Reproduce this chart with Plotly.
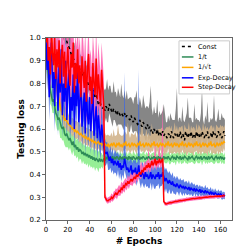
import plotly.graph_objects as go

epochs = list(range(165))

const_mean = [
1.40,1.37,1.34,1.31,1.28,1.26,1.23,1.21,1.18,1.16,
1.14,1.12,1.10,1.08,1.06,1.05,1.03,1.02,1.00,0.99,
0.97,0.96,0.95,0.93,0.92,0.91,0.90,0.88,0.89,0.87,
0.875,0.86,0.85,0.84,0.83,0.85,0.81,0.80,0.81,0.79,
0.78,0.77,0.76,0.77,0.75,0.74,0.75,0.73,0.71,0.72,
0.71,0.70,0.69,0.70,0.68,0.70,0.69,0.68,0.71,0.69,
0.68,0.67,0.69,0.68,0.675,0.66,0.68,0.67,0.66,0.67,
0.66,0.655,0.67,0.65,0.66,0.65,0.645,0.64,0.66,0.64,
0.63,0.65,0.64,0.63,0.62,0.625,0.64,0.62,0.61,0.63,
0.62,0.61,0.60,0.62,0.60,0.61,0.59,0.60,0.58,0.60,
0.59,0.58,0.60,0.57,0.59,0.58,0.57,0.59,0.57,0.58,
0.57,0.56,0.58,0.575,0.56,0.59,0.57,0.56,0.58,0.57,
0.58,0.56,0.57,0.59,0.56,0.58,0.57,0.55,0.59,0.57,
0.56,0.58,0.57,0.59,0.56,0.57,0.58,0.56,0.59,0.57,
0.58,0.56,0.57,0.59,0.57,0.56,0.58,0.57,0.59,0.56,
0.57,0.58,0.56,0.59,0.57,0.58,0.56,0.57,0.59,0.57,
0.58,0.56,0.57,0.59,0.57]
const_up = [
0.06,0.07,0.06,0.08,0.06,0.07,0.06,0.08,0.07,0.06,
0.07,0.06,0.08,0.06,0.07,0.06,0.07,0.08,0.06,0.07,
0.06,0.07,0.08,0.06,0.07,0.06,0.08,0.07,0.06,0.07,
0.07,0.06,0.08,0.06,0.07,0.06,0.07,0.08,0.06,0.07,
0.06,0.07,0.08,0.06,0.07,0.06,0.08,0.07,0.06,0.07,
0.09,0.08,0.10,0.08,0.09,0.08,0.13,0.09,0.08,0.10,
0.08,0.09,0.12,0.08,0.09,0.08,0.10,0.09,0.08,0.13,
0.09,0.08,0.10,0.08,0.11,0.08,0.09,0.10,0.08,0.09,
0.08,0.09,0.10,0.14,0.09,0.08,0.10,0.09,0.08,0.12,
0.09,0.08,0.10,0.08,0.09,0.11,0.20,0.09,0.08,0.10,
0.08,0.09,0.13,0.08,0.09,0.08,0.10,0.09,0.14,0.09,
0.06,0.07,0.08,0.06,0.11,0.06,0.07,0.08,0.06,0.12,
0.20,0.07,0.08,0.06,0.07,0.12,0.07,0.08,0.06,0.10,
0.18,0.07,0.08,0.06,0.07,0.06,0.13,0.08,0.06,0.07,
0.06,0.07,0.10,0.19,0.07,0.06,0.08,0.07,0.13,0.07,
0.06,0.07,0.08,0.06,0.18,0.06,0.07,0.08,0.10,0.07,
0.06,0.11,0.08,0.06,0.07]
const_dn = [
0.04,0.05,0.04,0.03,0.04,0.05,0.04,0.04,0.03,0.04,
0.05,0.04,0.04,0.03,0.04,0.05,0.04,0.04,0.03,0.04,
0.04,0.05,0.04,0.03,0.04,0.04,0.05,0.04,0.03,0.04,
0.04,0.05,0.04,0.03,0.04,0.04,0.05,0.04,0.03,0.04,
0.04,0.05,0.04,0.03,0.04,0.04,0.05,0.04,0.03,0.04,
0.05,0.06,0.05,0.04,0.05,0.05,0.06,0.05,0.04,0.05,
0.05,0.06,0.05,0.04,0.05,0.05,0.06,0.05,0.04,0.05,
0.05,0.06,0.05,0.04,0.05,0.05,0.06,0.05,0.04,0.05,
0.05,0.06,0.05,0.04,0.05,0.05,0.06,0.05,0.04,0.05,
0.05,0.06,0.05,0.04,0.05,0.05,0.06,0.05,0.04,0.05,
0.04,0.05,0.04,0.03,0.04,0.04,0.05,0.04,0.03,0.04,
0.04,0.05,0.04,0.03,0.04,0.04,0.05,0.04,0.03,0.04,
0.04,0.05,0.04,0.03,0.04,0.04,0.05,0.04,0.03,0.04,
0.04,0.05,0.04,0.03,0.04,0.04,0.05,0.04,0.03,0.04,
0.04,0.05,0.04,0.03,0.04,0.04,0.05,0.04,0.03,0.04,
0.04,0.05,0.04,0.03,0.04,0.04,0.05,0.04,0.03,0.04,
0.04,0.05,0.04,0.03,0.04]

inv_t_mean = [
0.93,0.88,0.84,0.80,0.77,0.75,0.72,0.73,0.69,0.67,
0.66,0.64,0.65,0.62,0.61,0.60,0.61,0.58,0.57,0.58,
0.56,0.55,0.56,0.54,0.53,0.545,0.52,0.53,0.51,0.52,
0.50,0.51,0.505,0.49,0.50,0.485,0.495,0.48,0.49,0.475,
0.485,0.47,0.48,0.465,0.475,0.46,0.47,0.465,0.455,0.47,
0.46,0.465,0.455,0.47,0.46,0.475,0.47,0.48,0.465,0.475,
0.47,0.48,0.465,0.475,0.47,0.48,0.47,0.465,0.48,0.47,
0.475,0.465,0.48,0.47,0.475,0.465,0.48,0.47,0.475,0.465,
0.48,0.47,0.465,0.475,0.47,0.48,0.465,0.475,0.47,0.48,
0.47,0.465,0.475,0.47,0.48,0.47,0.465,0.475,0.47,0.48,
0.47,0.475,0.465,0.48,0.47,0.475,0.465,0.47,0.48,0.47,
0.475,0.47,0.48,0.47,0.465,0.475,0.48,0.47,0.475,0.465,
0.48,0.475,0.47,0.48,0.465,0.475,0.47,0.48,0.475,0.47,
0.465,0.48,0.47,0.475,0.48,0.47,0.465,0.475,0.48,0.47,
0.475,0.47,0.48,0.465,0.475,0.48,0.47,0.475,0.465,0.48,
0.47,0.475,0.48,0.47,0.465,0.475,0.48,0.47,0.475,0.47,
0.48,0.47,0.475,0.465,0.475]
inv_t_std = [
0.05,0.06,0.05,0.05,0.06,0.05,0.05,0.06,0.05,0.05,
0.06,0.05,0.05,0.06,0.05,0.05,0.06,0.05,0.05,0.06,
0.04,0.045,0.04,0.04,0.045,0.04,0.04,0.045,0.04,0.04,
0.045,0.04,0.04,0.045,0.04,0.04,0.045,0.04,0.04,0.045,
0.04,0.04,0.045,0.04,0.04,0.045,0.04,0.04,0.045,0.04,
0.035,0.03,0.03,0.025,0.025,0.02,0.025,0.02,0.02,0.025,
0.02,0.02,0.025,0.02,0.02,0.025,0.02,0.02,0.025,0.02,
0.02,0.025,0.02,0.02,0.025,0.02,0.02,0.025,0.02,0.02,
0.025,0.02,0.02,0.025,0.02,0.02,0.025,0.02,0.02,0.025,
0.02,0.02,0.025,0.02,0.02,0.025,0.02,0.02,0.025,0.02,
0.02,0.025,0.02,0.02,0.025,0.02,0.02,0.025,0.02,0.02,
0.025,0.02,0.02,0.025,0.02,0.02,0.025,0.02,0.02,0.025,
0.02,0.02,0.025,0.02,0.02,0.025,0.02,0.02,0.025,0.02,
0.02,0.025,0.02,0.02,0.025,0.02,0.02,0.025,0.02,0.02,
0.025,0.02,0.02,0.025,0.02,0.02,0.025,0.02,0.02,0.025,
0.02,0.02,0.025,0.02,0.02,0.025,0.02,0.02,0.025,0.02,
0.02,0.025,0.02,0.02,0.025]

inv_sqrt_mean = [
1.30,1.22,1.15,1.09,1.04,1.00,0.95,0.90,0.85,0.81,
0.78,0.75,0.72,0.70,0.68,0.67,0.655,0.64,0.645,0.63,
0.625,0.62,0.615,0.61,0.60,0.605,0.59,0.595,0.585,0.59,
0.58,0.575,0.58,0.57,0.565,0.57,0.56,0.565,0.555,0.56,
0.55,0.555,0.545,0.55,0.54,0.545,0.535,0.54,0.545,0.535,
0.54,0.53,0.535,0.525,0.535,0.53,0.525,0.535,0.52,0.53,
0.535,0.525,0.54,0.53,0.52,0.535,0.53,0.54,0.525,0.53,
0.52,0.535,0.53,0.545,0.525,0.53,0.535,0.52,0.53,0.54,
0.525,0.535,0.53,0.52,0.535,0.53,0.545,0.525,0.53,0.535,
0.52,0.53,0.54,0.525,0.535,0.53,0.52,0.535,0.53,0.545,
0.525,0.53,0.535,0.52,0.53,0.54,0.525,0.535,0.53,0.52,
0.535,0.53,0.545,0.525,0.53,0.535,0.52,0.53,0.54,0.525,
0.535,0.53,0.52,0.535,0.53,0.545,0.525,0.53,0.535,0.52,
0.53,0.54,0.525,0.535,0.53,0.52,0.535,0.53,0.545,0.525,
0.53,0.535,0.52,0.53,0.54,0.525,0.535,0.53,0.52,0.535,
0.53,0.545,0.525,0.53,0.535,0.52,0.53,0.54,0.525,0.535,
0.53,0.54,0.535,0.545,0.54]
inv_sqrt_up = [
0.06,0.06,0.06,0.06,0.06,0.06,0.06,0.06,0.06,0.06,
0.05,0.06,0.05,0.05,0.06,0.05,0.05,0.06,0.05,0.05,
0.05,0.04,0.05,0.04,0.05,0.04,0.05,0.04,0.05,0.04,
0.05,0.04,0.05,0.04,0.05,0.04,0.05,0.04,0.05,0.04,
0.05,0.04,0.05,0.04,0.05,0.04,0.05,0.04,0.05,0.04,
0.05,0.04,0.05,0.04,0.05,0.04,0.05,0.04,0.05,0.04,
0.05,0.04,0.06,0.04,0.05,0.04,0.09,0.04,0.05,0.04,
0.05,0.04,0.06,0.04,0.05,0.10,0.05,0.04,0.05,0.04,
0.05,0.04,0.06,0.04,0.05,0.04,0.05,0.04,0.12,0.04,
0.05,0.04,0.06,0.04,0.05,0.04,0.05,0.09,0.05,0.04,
0.06,0.07,0.06,0.08,0.07,0.06,0.08,0.07,0.06,0.08,
0.07,0.08,0.06,0.09,0.07,0.08,0.06,0.07,0.09,0.07,
0.08,0.06,0.09,0.07,0.08,0.07,0.06,0.09,0.07,0.08,
0.07,0.09,0.06,0.08,0.07,0.09,0.07,0.06,0.08,0.07,
0.09,0.07,0.08,0.06,0.09,0.07,0.08,0.07,0.09,0.06,
0.08,0.07,0.09,0.07,0.08,0.06,0.09,0.07,0.08,0.07,
0.09,0.07,0.08,0.06,0.08]
inv_sqrt_dn = [
0.05,0.05,0.05,0.05,0.05,0.05,0.05,0.05,0.05,0.05,
0.04,0.04,0.04,0.04,0.04,0.04,0.04,0.04,0.04,0.04,
0.03,0.035,0.03,0.03,0.035,0.03,0.03,0.035,0.03,0.03,
0.03,0.035,0.03,0.03,0.035,0.03,0.03,0.035,0.03,0.03,
0.03,0.035,0.03,0.03,0.035,0.03,0.03,0.035,0.03,0.03,
0.03,0.025,0.03,0.03,0.025,0.03,0.03,0.025,0.03,0.03,
0.025,0.03,0.03,0.025,0.03,0.03,0.025,0.03,0.03,0.025,
0.03,0.03,0.025,0.03,0.03,0.025,0.03,0.03,0.025,0.03,
0.03,0.025,0.03,0.03,0.025,0.03,0.03,0.025,0.03,0.03,
0.025,0.03,0.03,0.025,0.03,0.03,0.025,0.03,0.03,0.025,
0.03,0.035,0.03,0.04,0.035,0.03,0.04,0.035,0.03,0.04,
0.035,0.04,0.03,0.04,0.035,0.04,0.03,0.035,0.04,0.035,
0.04,0.03,0.04,0.035,0.04,0.035,0.03,0.04,0.035,0.04,
0.035,0.04,0.03,0.04,0.035,0.04,0.035,0.03,0.04,0.035,
0.04,0.035,0.04,0.03,0.04,0.035,0.04,0.035,0.04,0.03,
0.04,0.035,0.04,0.035,0.04,0.03,0.04,0.035,0.04,0.035,
0.04,0.035,0.04,0.03,0.04]

exp_mean = [
1.00,0.86,0.95,0.74,0.90,0.98,0.78,0.85,0.70,0.93,
0.82,0.68,0.88,0.76,0.95,0.66,0.80,0.72,0.90,0.64,
0.78,0.86,0.62,0.74,0.68,0.84,0.60,0.79,0.70,0.88,
0.63,0.72,0.82,0.61,0.69,0.76,0.58,0.80,0.66,0.62,
0.74,0.59,0.68,0.78,0.57,0.64,0.70,0.56,0.66,0.60,
0.54,0.62,0.56,0.52,0.50,
0.49,0.50,0.47,0.46,0.48,0.45,0.47,0.44,0.46,0.45,
0.44,0.46,0.43,0.45,0.42,0.44,0.43,0.47,0.45,0.42,
0.43,0.41,0.42,0.44,0.40,0.42,0.41,0.43,0.40,0.41,
0.44,0.40,0.39,0.41,0.40,0.38,0.41,0.39,0.40,0.38,
0.39,0.41,0.38,0.40,0.39,0.38,0.40,0.39,0.41,0.38,
0.40,0.39,0.41,
0.38,0.37,0.385,0.37,0.36,0.375,0.36,0.355,0.37,0.35,
0.355,0.345,0.36,0.35,0.34,0.355,0.345,0.34,0.35,0.335,
0.345,0.34,0.335,0.345,0.33,0.34,0.335,0.33,0.34,0.325,
0.335,0.33,0.325,0.335,0.32,0.33,0.325,0.32,0.33,0.32,
0.325,0.32,0.315,0.325,0.315,0.32,0.31,0.32,0.315,0.31,
0.315,0.31,0.315,0.31,0.305,0.31,0.305]
exp_up = [
0.12,0.10,0.13,0.11,0.12,0.10,0.14,0.11,0.12,0.10,
0.13,0.11,0.12,0.10,0.14,0.11,0.12,0.10,0.13,0.11,
0.12,0.10,0.14,0.11,0.12,0.10,0.13,0.11,0.12,0.10,
0.12,0.10,0.13,0.11,0.12,0.10,0.14,0.11,0.12,0.10,
0.11,0.10,0.12,0.09,0.11,0.10,0.12,0.09,0.11,0.10,
0.09,0.08,0.09,0.07,0.06,
0.05,0.045,0.05,0.04,0.05,0.045,0.05,0.04,0.05,0.045,
0.05,0.04,0.05,0.045,0.05,0.04,0.05,0.38,0.05,0.04,
0.05,0.045,0.05,0.04,0.05,0.045,0.05,0.04,0.05,0.045,
0.42,0.04,0.05,0.045,0.05,0.04,0.05,0.045,0.05,0.04,
0.05,0.045,0.05,0.04,0.05,0.045,0.05,0.04,0.05,0.045,
0.05,0.04,0.05,
0.05,0.05,0.045,0.05,0.045,0.04,0.045,0.04,0.04,0.035,
0.04,0.035,0.035,0.03,0.035,0.03,0.03,0.035,0.03,0.03,
0.025,0.03,0.025,0.03,0.025,0.025,0.03,0.025,0.02,0.025,
0.02,0.025,0.02,0.02,0.025,0.02,0.02,0.02,0.025,0.02,
0.02,0.015,0.02,0.02,0.015,0.02,0.015,0.02,0.015,0.015,
0.02,0.015,0.015,0.02,0.015,0.015,0.015]
exp_dn = [
0.10,0.09,0.11,0.10,0.09,0.11,0.10,0.09,0.11,0.10,
0.09,0.11,0.10,0.09,0.11,0.10,0.09,0.11,0.10,0.09,
0.11,0.10,0.09,0.11,0.10,0.09,0.11,0.10,0.09,0.11,
0.10,0.09,0.11,0.10,0.09,0.11,0.10,0.09,0.11,0.10,
0.09,0.10,0.11,0.09,0.10,0.11,0.09,0.10,0.11,0.09,
0.08,0.07,0.07,0.06,0.06,
0.05,0.045,0.05,0.04,0.05,0.045,0.05,0.04,0.05,0.045,
0.05,0.04,0.05,0.045,0.05,0.04,0.05,0.05,0.05,0.04,
0.05,0.045,0.05,0.04,0.05,0.045,0.05,0.04,0.05,0.045,
0.05,0.04,0.05,0.045,0.05,0.04,0.05,0.045,0.05,0.04,
0.05,0.045,0.05,0.04,0.05,0.045,0.05,0.04,0.05,0.045,
0.05,0.04,0.05,
0.05,0.05,0.045,0.05,0.045,0.04,0.045,0.04,0.04,0.035,
0.04,0.035,0.035,0.03,0.035,0.03,0.03,0.035,0.03,0.03,
0.025,0.03,0.025,0.03,0.025,0.025,0.03,0.025,0.02,0.025,
0.02,0.025,0.02,0.02,0.025,0.02,0.02,0.02,0.025,0.02,
0.02,0.015,0.02,0.02,0.015,0.02,0.015,0.02,0.015,0.015,
0.02,0.015,0.015,0.02,0.015,0.015,0.015]

step_mean = [
0.98,1.05,0.90,0.96,0.84,1.02,0.93,0.88,1.00,0.82,
0.95,0.87,0.99,0.80,0.91,0.97,0.83,0.94,0.78,0.90,
0.96,0.85,0.79,0.93,0.87,0.98,0.76,0.89,0.82,0.95,
0.80,0.88,0.74,0.92,0.84,0.78,0.90,0.72,0.86,0.93,
0.77,0.83,0.71,0.89,0.80,0.75,0.91,0.73,0.84,0.78,
0.70,0.86,0.74,0.70,
0.30,0.29,0.285,0.285,0.29,0.29,0.30,0.295,0.305,0.31,
0.32,0.31,0.325,0.33,0.325,0.34,0.335,0.35,0.345,0.36,
0.355,0.37,0.36,0.375,0.38,0.37,0.385,0.39,0.38,0.40,
0.39,0.405,0.41,0.40,0.42,0.41,0.43,0.42,0.44,0.43,
0.45,0.43,0.44,0.46,0.44,0.45,0.47,0.44,0.46,0.45,
0.47,0.45,0.46,0.47,
0.28,0.272,0.27,0.272,0.274,0.275,0.277,0.276,0.278,0.279,
0.28,0.282,0.281,0.283,0.284,0.286,0.285,0.286,0.288,0.287,
0.289,0.291,0.29,0.291,0.293,0.292,0.293,0.295,0.294,0.295,
0.297,0.296,0.297,0.298,0.297,0.298,0.3,0.299,0.3,0.301,
0.3,0.302,0.302,0.303,0.302,0.304,0.303,0.304,0.305,0.304,
0.305,0.306,0.305,0.307,0.306,0.308,0.307]
step_up = [
0.14,0.12,0.15,0.13,0.14,0.12,0.16,0.13,0.14,0.12,
0.15,0.13,0.14,0.12,0.16,0.13,0.14,0.12,0.15,0.13,
0.14,0.12,0.16,0.13,0.14,0.12,0.15,0.13,0.14,0.12,
0.15,0.13,0.14,0.12,0.16,0.13,0.14,0.12,0.15,0.13,
0.14,0.12,0.16,0.13,0.14,0.12,0.15,0.13,0.14,0.12,
0.14,0.12,0.13,0.12,
0.015,0.012,0.012,0.015,0.012,0.015,0.018,0.015,0.02,0.018,
0.02,0.025,0.02,0.025,0.02,0.03,0.025,0.02,0.03,0.025,
0.02,0.03,0.025,0.02,0.03,0.025,0.02,0.03,0.025,0.02,
0.03,0.025,0.02,0.06,0.025,0.02,0.03,0.025,0.02,0.03,
0.07,0.025,0.02,0.03,0.025,0.02,0.08,0.025,0.02,0.03,
0.06,0.025,0.03,0.24,
0.01,0.008,0.008,0.009,0.008,0.009,0.008,0.009,0.008,0.009,
0.008,0.009,0.008,0.009,0.008,0.009,0.008,0.009,0.008,0.009,
0.008,0.009,0.008,0.009,0.008,0.009,0.008,0.009,0.008,0.009,
0.008,0.009,0.008,0.009,0.008,0.009,0.008,0.009,0.008,0.009,
0.008,0.009,0.008,0.009,0.008,0.009,0.008,0.009,0.008,0.009,
0.008,0.009,0.008,0.009,0.008,0.009,0.008]
step_dn = [
0.13,0.12,0.14,0.13,0.12,0.14,0.13,0.12,0.14,0.13,
0.12,0.14,0.13,0.12,0.14,0.13,0.12,0.14,0.13,0.12,
0.14,0.13,0.12,0.14,0.13,0.12,0.14,0.13,0.12,0.14,
0.13,0.12,0.14,0.13,0.12,0.14,0.13,0.12,0.14,0.13,
0.12,0.14,0.13,0.12,0.14,0.13,0.12,0.14,0.13,0.12,
0.13,0.12,0.12,0.11,
0.012,0.012,0.012,0.012,0.012,0.015,0.015,0.015,0.018,0.018,
0.02,0.02,0.02,0.022,0.02,0.022,0.02,0.022,0.025,0.022,
0.025,0.022,0.025,0.022,0.025,0.022,0.025,0.022,0.025,0.022,
0.025,0.022,0.025,0.022,0.025,0.022,0.025,0.022,0.025,0.022,
0.025,0.022,0.025,0.022,0.025,0.022,0.025,0.022,0.025,0.022,
0.025,0.022,0.025,0.02,
0.01,0.008,0.008,0.009,0.008,0.009,0.008,0.009,0.008,0.009,
0.008,0.009,0.008,0.009,0.008,0.009,0.008,0.009,0.008,0.009,
0.008,0.009,0.008,0.009,0.008,0.009,0.008,0.009,0.008,0.009,
0.008,0.009,0.008,0.009,0.008,0.009,0.008,0.009,0.008,0.009,
0.008,0.009,0.008,0.009,0.008,0.009,0.008,0.009,0.008,0.009,
0.008,0.009,0.008,0.009,0.008,0.009,0.008]

series_names = ["Const", "1/t", "1/\u221at", "Exp-Decay", "Step-Decay"]

series = [
    (series_names[0], const_mean, const_up, const_dn, "black", "dot", "rgba(128,128,128,0.95)"),
    (series_names[1], inv_t_mean, inv_t_std, inv_t_std, "seagreen", "solid", "rgba(144,238,144,0.95)"),
    (series_names[2], inv_sqrt_mean, inv_sqrt_up, inv_sqrt_dn, "orange", "solid", "rgba(210,180,140,0.9)"),
    (series_names[3], exp_mean, exp_up, exp_dn, "blue", "solid", "rgba(65,105,225,0.85)"),
    (series_names[4], step_mean, step_up, step_dn, "red", "solid", "rgba(255,105,180,0.95)"),
]

fig = go.Figure()
# shaded bands first
for name, m, up, dn, col, dash, band in series:
    lo = [a - b for a, b in zip(m, dn)]
    hi = [a + b for a, b in zip(m, up)]
    fig.add_trace(go.Scatter(x=epochs, y=lo, mode="lines", line=dict(width=0),
                             showlegend=False, hoverinfo="skip"))
    fig.add_trace(go.Scatter(x=epochs, y=hi, mode="lines", line=dict(width=0),
                             fill="tonexty", fillcolor=band, showlegend=False, hoverinfo="skip"))
# mean lines on top
for name, m, up, dn, col, dash, band in series:
    fig.add_trace(go.Scatter(x=epochs, y=m, mode="lines", name=name, showlegend=False,
                             line=dict(color=col, width=1.5, dash=dash)))

# Custom compact legend (paper coordinates; plot area 31..224 x 30..222 px)
def px_x(px):
    return (px - 31) / 193.0

def px_y(py):
    return (222 - py) / 192.0

shapes = [dict(type="rect", xref="paper", yref="paper",
               x0=px_x(169), x1=px_x(221.5), y0=px_y(89), y1=px_y(33),
               line=dict(color="#cccccc", width=1), fillcolor="rgba(255,255,255,0.9)", layer="above")]
annotations = []
row_y = [39, 50, 61, 72, 82]
for (name, m, up, dn, col, dash, band), ry in zip(series, row_y):
    shapes.append(dict(type="line", xref="paper", yref="paper",
                       x0=px_x(172), x1=px_x(184), y0=px_y(ry), y1=px_y(ry),
                       line=dict(color=col, width=1.5, dash=dash), layer="above"))
    annotations.append(dict(xref="paper", yref="paper", x=px_x(187), y=px_y(ry),
                            xanchor="left", yanchor="middle", text=name, showarrow=False,
                            font=dict(family="DejaVu Sans", size=6.5, color="black")))

axis_common = dict(showline=True, linecolor="#666666", linewidth=1, mirror=True,
                   ticks="outside", ticklen=3, tickcolor="#666666", tickwidth=1,
                   showgrid=False, zeroline=False,
                   tickfont=dict(family="DejaVu Sans", size=7, color="black"))

fig.update_layout(
    width=249, height=249,
    margin=dict(l=31, r=25, t=30, b=27),
    paper_bgcolor="white", plot_bgcolor="white",
    font=dict(family="DejaVu Sans", size=7, color="black"),
    xaxis=dict(range=[0, 170.5], tickvals=[0, 20, 40, 60, 80, 100, 120, 140, 160],
               title=dict(text="<b># Epochs</b>", font=dict(size=9), standoff=4),
               **axis_common),
    yaxis=dict(range=[0.2, 1.0], tickvals=[0.2, 0.3, 0.4, 0.5, 0.6, 0.7, 0.8, 0.9, 1.0],
               ticktext=["0.2", "0.3", "0.4", "0.5", "0.6", "0.7", "0.8", "0.9", "1.0"],
               title=dict(text="<b>Testing loss</b>", font=dict(size=9), standoff=3),
               **axis_common),
    shapes=shapes,
    annotations=annotations,
    showlegend=False,
)

fig.write_html("out.html")
